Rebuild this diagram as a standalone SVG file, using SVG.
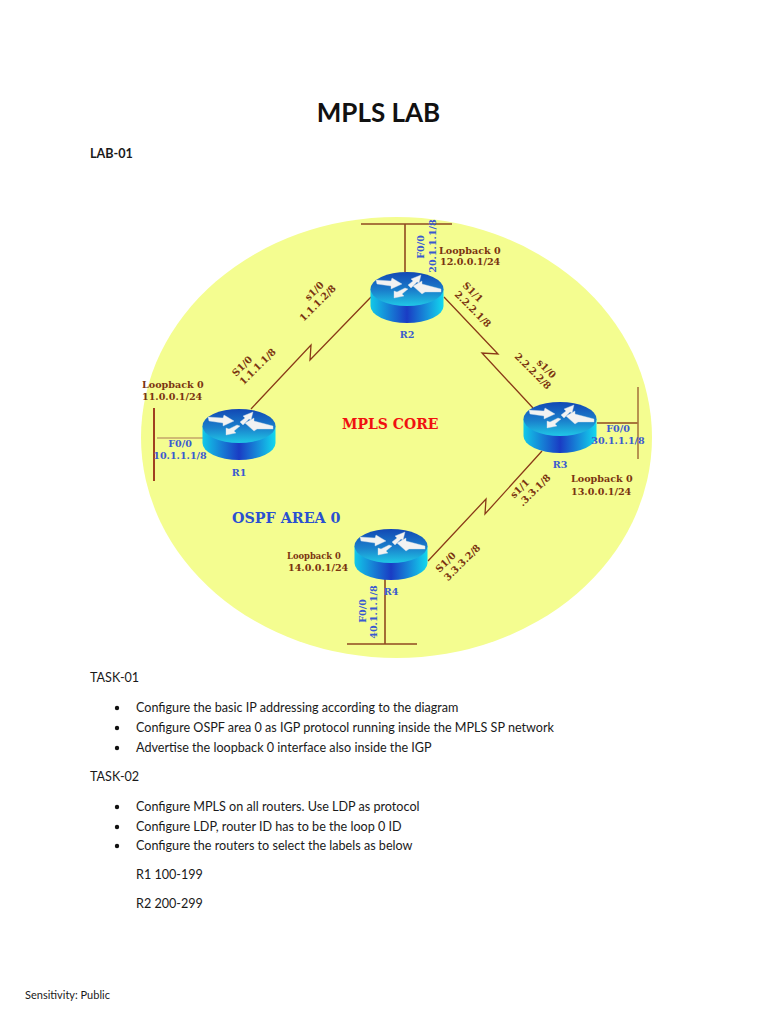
<svg xmlns="http://www.w3.org/2000/svg" width="768" height="1024" viewBox="0 0 768 1024">
<style>
.doc{font-family:Lato,"Open Sans",sans-serif;font-size:12.6px;fill:#1a1a1a}
.d{font-family:"DejaVu Serif","Liberation Serif",serif;font-weight:bold;font-size:9.6px}
.b{fill:#7a3410}.u{fill:#3a5ad0}
.m{text-anchor:middle}
.line{stroke:#8a3a18;stroke-width:1.3;fill:none}
.eth{stroke:#8f4a20;stroke-width:1.6;fill:none}
.tan{stroke:#c4a468;stroke-width:1.6;fill:none}
.arr{fill:#f2f2f2;stroke:#c8d8e8;stroke-width:.4}
</style>
<defs>
<linearGradient id="side" x1="0" x2="1" y1="0" y2="0">
<stop offset="0" stop-color="#12c8e8"/><stop offset=".5" stop-color="#1a3cc4"/><stop offset="1" stop-color="#12d8ee"/>
</linearGradient>
<linearGradient id="top" x1="0" x2="0" y1="0" y2="1">
<stop offset="0" stop-color="#1248b4"/><stop offset=".55" stop-color="#1a80cc"/><stop offset="1" stop-color="#20c8e6"/>
</linearGradient>
<g id="router">
<path d="M-36.500 0V17A36.500 17 0 0 0 36.500 17V0Z" fill="url(#side)"/>
<ellipse cx="0" cy="0" rx="36.500" ry="17" fill="url(#top)"/>
<path class="arr" d="M-31-9-16-8-15-11-5-5-16 0-16-3-30-5Z"/>
<path class="arr" d="M1-4 6-8 4-10 14-14 12-6 10-7 4-1Z"/>
<path class="arr" d="M6-3 15-8 15-5 34 0 34 3 18 3 15 5Z"/>
<path class="arr" d="M-13 9-13 2-10 3-2-1 1 0-5 5-3 7Z"/>
</g>
</defs>
<rect width="768" height="1024" fill="#fff"/>
<text x="378.500" y="122" text-anchor="middle" style="font-family:Lato,'Open Sans',sans-serif;font-weight:bold;font-size:26px;fill:#111">MPLS LAB</text>
<text x="90" y="158" class="doc" style="font-weight:bold">LAB-01</text>
<ellipse id="area" cx="396.500" cy="437.500" rx="255.500" ry="220.500" fill="#f4fd90"/>
<g id="connectors">
<path class="line" d="M251 409 311 345 310 360 371 297"/>
<path class="line" d="M444 297 498 354 482 353 533 408"/>
<path class="line" d="M542 451 485 514 486 499 428 561"/>
<path class="eth" d="M154 408V481" style="stroke:#a04020;stroke-width:2"/>
<path class="tan" d="M157 438H204"/>
<path class="eth" d="M361 224H452M405 224V272"/>
<path class="eth" d="M597 423H638"/>
<path class="tan" d="M638 387V459" style="stroke:#a87840"/>
<path class="eth" d="M385 579V644M347 644H417"/>
</g>
<g id="R1"><use href="#router" x="239" y="426"/><text x="239" y="476" class="d u m">R1</text></g>
<g id="R2"><use href="#router" x="407" y="289"/><text x="407" y="338" class="d u m">R2</text></g>
<g id="R3"><use href="#router" x="560" y="419"/><text x="560" y="468" class="d u m">R3</text></g>
<g id="R4"><use href="#router" x="391" y="546"/><text x="391" y="595" class="d u m">R4</text></g>
<g id="labels">
<text x="342" y="429" style="font-family:'DejaVu Serif',serif;font-weight:bold;font-size:14px;fill:#f01010">MPLS CORE</text>
<text x="232" y="523" style="font-family:'DejaVu Serif',serif;font-weight:bold;font-size:14.300px;fill:#2a50d0">OSPF AREA 0</text>
<text x="142" y="388" class="d b">Loopback 0</text><text x="142" y="400" class="d b">11.0.0.1/24</text>
<text x="180" y="447" class="d u m">F0/0</text><text x="180" y="459" class="d u m">10.1.1.1/8</text>
<text class="d b m" transform="translate(244.500 368.500) rotate(-45)">S1/0</text>
<text class="d b m" transform="translate(260 369) rotate(-45)">1.1.1.1/8</text>
<text class="d b m" transform="translate(316.500 293.500) rotate(-45)">s1/0</text>
<text class="d b m" transform="translate(320 305.500) rotate(-45)">1.1.1.2/8</text>
<text class="d u m" transform="translate(424 247) rotate(-90)">F0/0</text>
<text class="d u m" transform="translate(436 246) rotate(-90)">20.1.1.1/8</text>
<text x="439" y="254" class="d b">Loopback 0</text><text x="440" y="265" class="d b">12.0.0.1/24</text>
<text class="d b m" transform="translate(470.500 294.500) rotate(45)">S1/1</text>
<text class="d b m" transform="translate(470.500 311.500) rotate(45)">2.2.2.1/8</text>
<text class="d b m" transform="translate(544 371) rotate(45)">s1/0</text>
<text class="d b m" transform="translate(530.500 373.500) rotate(45)">2.2.2.2/8</text>
<text x="618" y="432" class="d u m">F0/0</text><text x="618" y="444" class="d u m">30.1.1.1/8</text>
<text x="571" y="482" class="d b">Loopback 0</text><text x="571" y="495" class="d b">13.0.0.1/24</text>
<text class="d b m" transform="translate(522 491) rotate(-45)">s1/1</text>
<text class="d b m" transform="translate(537 492.500) rotate(-45)">.3.3.1/8</text>
<text x="287" y="559" class="d b" style="font-size:8.400px">Loopback 0</text><text x="288" y="571" class="d b">14.0.0.1/24</text>
<text class="d b m" transform="translate(448 564.500) rotate(-45)">S1/0</text>
<text class="d b m" transform="translate(464.500 565) rotate(-45)">3.3.3.2/8</text>
<text class="d u m" transform="translate(366 611) rotate(-90)">F0/0</text>
<text class="d u m" transform="translate(377 612) rotate(-90)">40.1.1.1/8</text>
</g>
<g id="document">
<text x="90" y="682" class="doc">TASK-01</text>
<text x="136" y="712" class="doc">Configure the basic IP addressing according to the diagram</text>
<text x="136" y="732" class="doc">Configure OSPF area 0 as IGP protocol running inside the MPLS SP network</text>
<text x="136" y="752" class="doc">Advertise the loopback 0 interface also inside the IGP</text>
<text x="90" y="781" class="doc">TASK-02</text>
<text x="136" y="811" class="doc">Configure MPLS on all routers. Use LDP as protocol</text>
<text x="136" y="831" class="doc">Configure LDP, router ID has to be the loop 0 ID</text>
<text x="136" y="850" class="doc">Configure the routers to select the labels as below</text>
<text x="136" y="879" class="doc">R1 100-199</text>
<text x="136" y="908" class="doc">R2 200-299</text>
<text x="25" y="999" class="doc" style="font-size:11px">Sensitivity: Public</text>
<circle cx="117" cy="708" r="2.200" fill="#111"/><circle cx="117" cy="728" r="2.200" fill="#111"/><circle cx="117" cy="748" r="2.200" fill="#111"/>
<circle cx="117" cy="807" r="2.200" fill="#111"/><circle cx="117" cy="827" r="2.200" fill="#111"/><circle cx="117" cy="846" r="2.200" fill="#111"/>
</g>
</svg>
